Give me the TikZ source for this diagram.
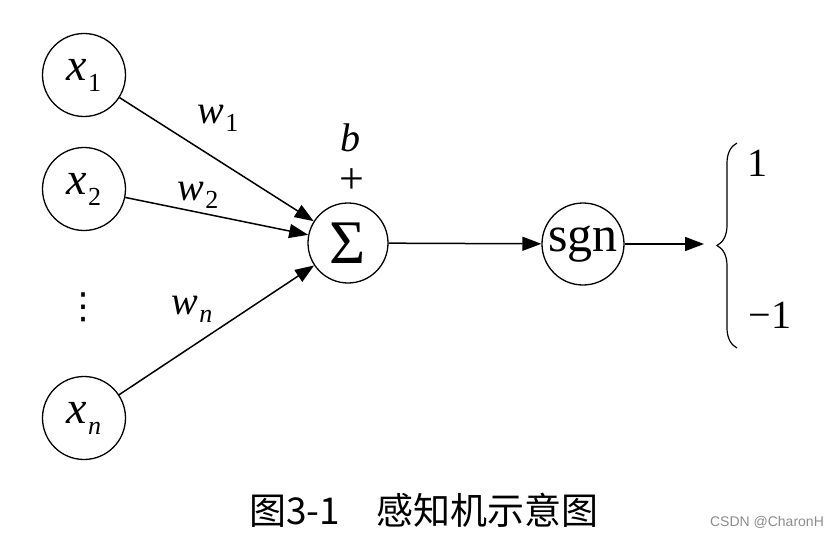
\documentclass[tikz,border=0pt]{standalone}
\usepackage{fontspec}
\setmainfont{Liberation Serif}
\newfontfamily\cjkfont{Noto Sans CJK SC}
\newfontfamily\markfont{Liberation Sans}
\newfontfamily\symfont{DejaVu Sans}
\usetikzlibrary{arrows.meta,decorations.pathreplacing}
% variable with a lowered index
\newcommand\varsub[3]{\textit{#1}\kern1pt\raisebox{#3}{\fontsize{26}{28}\selectfont #2}}
\tikzset{
  pc/neuron/.style={circle, draw, line width=1.3pt, minimum size=83pt, inner sep=0pt},
  pc/arrow/.style={-{Triangle[length=19pt,width=14pt]}, line width=1.5pt},
  pc/input/.style={pc/neuron, font=\fontsize{46}{50}\selectfont},
  pc/weight/.style={font=\fontsize{40}{44}\selectfont},
  pc/output/.style={font=\fontsize{40}{44}\selectfont},
  pc/caption/.style={font=\cjkfont\fontsize{37}{40}\selectfont},
  pc/mark/.style={font=\markfont\fontsize{14}{16}\selectfont, text=black!45},
}
\begin{document}
\begin{tikzpicture}[x=1pt, y=-1pt]
\useasboundingbox (0,0) rectangle (831,538);

% ===== inputs =====
\node[pc/input] (x1) at (84, 75)  {\varsub{x}{1}{-11pt}};
\node[pc/input] (x2) at (84, 189) {\varsub{x}{2}{-11pt}};
\node[font=\symfont\fontsize{36}{40}\selectfont] (dots) at (83, 307) {⋮};
\node[pc/input] (xn) at (84, 418) {\varsub{x}{\textit{n}}{-11pt}};

% ===== summation and sign =====
\node[pc/neuron, minimum size=80pt, font=\fontsize{62}{66}\selectfont] (sum) at (348, 243) {Σ};
\node[pc/neuron, minimum size=82pt, font=\fontsize{50}{54}\selectfont] (sgn) at (583, 244) {sgn};
\node[font=\fontsize{40}{44}\selectfont\itshape] (bias) at (350, 138) {b};
\node[font=\fontsize{44}{48}\selectfont] (plus) at (352, 181) {+};

% ===== weighted inputs =====
\draw[pc/arrow] (x1) -- (sum);
\draw[pc/arrow] (x2) -- (sum);
\draw[pc/arrow] (xn) -- (sum);
\node[pc/weight] (w1) at (218, 118) {\varsub{w}{1}{-8pt}};
\node[pc/weight] (w2) at (198, 195) {\varsub{w}{2}{-8pt}};
\node[pc/weight] (wn) at (192, 309) {\varsub{w}{\textit{n}}{-8pt}};

% ===== output =====
\coordinate (out) at (704, 244);
\draw[pc/arrow] (sum) -- (sgn);
\draw[pc/arrow] (sgn) -- (out);
\coordinate (braceBot) at (737, 348);
\coordinate (braceTop) at (737, 143);
\draw[line width=1.2pt, decorate, decoration={brace, amplitude=20pt, aspect=0.5}]
  (braceBot) -- (braceTop);
\node[pc/output] (one) at (757, 163) {1};
\node[pc/output] (minusone) at (770, 315) {−1};

% ===== caption =====
\node[pc/caption] (cap) at (424, 510) {图3-1　感知机示意图};
\node[pc/mark] (wm) at (767, 522) {CSDN @CharonH};
\end{tikzpicture}
\end{document}
